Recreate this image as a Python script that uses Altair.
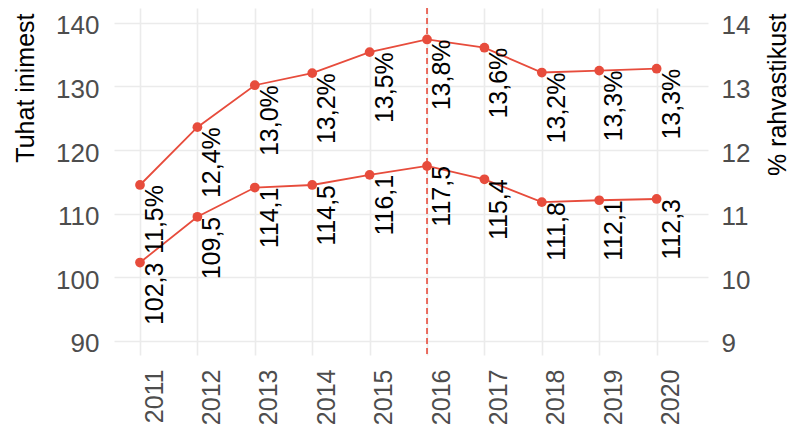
import altair as alt
import pandas as pd

years = [2011, 2012, 2013, 2014, 2015, 2016, 2017, 2018, 2019, 2020]
people = [102.3, 109.5, 114.1, 114.5, 116.1, 117.5, 115.4, 111.8, 112.1, 112.3]
people_labels = ["102,3", "109,5", "114,1", "114,5", "116,1", "117,5", "115,4", "111,8", "112,1", "112,3"]
share = [11.45, 12.36, 13.02, 13.21, 13.54, 13.74, 13.61, 13.22, 13.25, 13.28]
share_labels = ["11,5%", "12,4%", "13,0%", "13,2%", "13,5%", "13,8%", "13,6%", "13,2%", "13,3%", "13,3%"]
marker_year = [2016]
left_ticks = [90, 95, 100, 105, 110, 115, 120, 125, 130, 135, 140]
right_ticks = [9, 10, 11, 12, 13, 14]

RED = "#E74C3C"
FONT = "Liberation Sans"

df = pd.DataFrame({
    "year": years,
    "people": people,
    "people_label": people_labels,
    "share": share,
    "share_label": share_labels,
})
marker_df = pd.DataFrame({"year": marker_year})

x_enc = alt.X(
    "year:Q",
    scale=alt.Scale(domain=[2010.547, 2020.895], nice=False, zero=False),
    axis=alt.Axis(
        values=years, format="d", title=None,
        labelAngle=270, labelAlign="right", labelBaseline="top",
        labelOffset=2, labelPadding=14, labelFontSize=25,
        labelColor="#4d4d4d", labelFlush=False, labelOverlap=False,
        ticks=False, domain=False, grid=True,
        gridColor="#ebebeb", gridWidth=1.6,
    ),
)

y_left = alt.Y(
    "people:Q",
    scale=alt.Scale(domain=[87.75, 142.35], nice=False, zero=False),
    axis=alt.Axis(
        values=left_ticks,
        labelExpr="datum.value % 10 === 0 ? datum.label : ''",
        labelFontSize=26, labelColor="#4d4d4d", labelPadding=15,
        labelOffset=3, labelFlush=False, labelOverlap=False,
        ticks=False, domain=False, grid=True,
        gridColor="#ebebeb", gridWidth=1.6,
        title="Tuhat inimest", titleFontSize=25, titleFontWeight="normal",
        titleColor="black", titleAngle=270, titleAlign="right",
        titleBaseline="alphabetic", titleX=-81, titleY=5,
    ),
)

y_left_plain = alt.Y("people:Q")

y_right = alt.Y(
    "share:Q",
    scale=alt.Scale(domain=[8.775, 14.235], nice=False, zero=False),
    axis=alt.Axis(
        orient="right", values=right_ticks, format="d",
        labelFontSize=26, labelColor="#4d4d4d", labelPadding=13,
        labelOffset=3, labelFlush=False, labelOverlap=False,
        ticks=False, domain=False, grid=False,
        title="% rahvastikust", titleFontSize=25, titleFontWeight="normal",
        titleColor="black", titleAngle=270, titleAlign="right",
        titleBaseline="alphabetic", titleX=77, titleY=5,
    ),
)
y_right_plain = alt.Y("share:Q")

base = alt.Chart(df)

people_line = base.mark_line(color=RED, strokeWidth=1.8).encode(x=x_enc, y=y_left)
people_pts = base.mark_circle(color=RED, size=95, opacity=1).encode(x="year:Q", y=y_left_plain)
people_txt = base.mark_text(
    angle=270, align="right", baseline="top", dy=3, fontSize=25, color="black", font=FONT
).encode(x="year:Q", y=y_left_plain, text="people_label:N")
marker = alt.Chart(marker_df).mark_rule(
    color=RED, strokeWidth=1.6, strokeDash=[6, 4]
).encode(x="year:Q")

left = alt.layer(marker, people_line, people_pts, people_txt)

share_line = base.mark_line(color=RED, strokeWidth=1.8).encode(x="year:Q", y=y_right)
share_pts = base.mark_circle(color=RED, size=95, opacity=1).encode(x="year:Q", y=y_right_plain)
share_txt = base.mark_text(
    angle=270, align="right", baseline="top", dy=3, fontSize=25, color="black", font=FONT
).encode(x="year:Q", y=y_right_plain, text="share_label:N")

right = alt.layer(share_line, share_pts, share_txt)

chart = alt.layer(left, right).resolve_scale(y="independent").properties(
    width=594, height=347,
    padding={"left": 106, "top": 0, "right": 83, "bottom": 74},
    autosize=alt.AutoSizeParams(type="none"),
).configure(font=FONT).configure_view(stroke=None)

chart.save("out.html", embed_options={"renderer": "svg", "actions": False})
